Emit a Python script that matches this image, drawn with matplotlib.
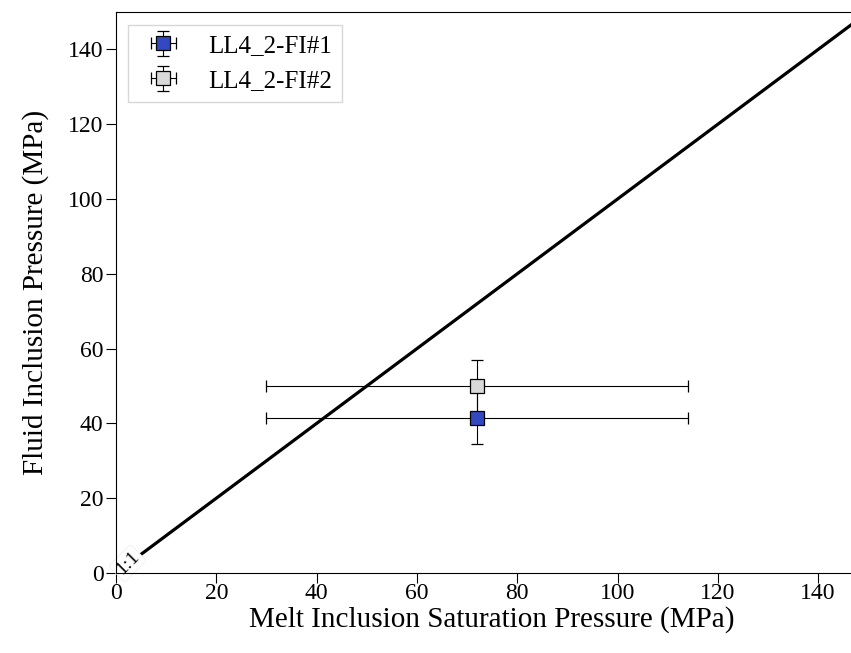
import numpy as np
import matplotlib.pyplot as plt

plt.rcParams['font.family'] = ['Liberation Serif', 'DejaVu Serif']

labels = ['LL4_2-FI#1', 'LL4_2-FI#2']
mi_sat = [72, 72]
mi_err = [42, 42]
fi_press = [41.5, 50]
fi_err = [7, 7]
colors = ['#3349c2', '#d9d9d9']

fig = plt.figure(figsize=(8.51, 6.53), dpi=100)
ax = fig.add_axes([0.1363, 0.1225, 0.884, 0.859])

oneone = np.array([0, 150])
ax.plot(oneone, oneone, '-k', lw=2.3, zorder=1)
ax.text(2.3, 2.6, '1:1', rotation=45, ha='center', va='center', fontsize=14,
        bbox=dict(boxstyle='round,pad=0.15', facecolor='white',
                  edgecolor='#eeeeee', lw=0.5), zorder=2)

for i in range(len(labels)):
    ax.errorbar(mi_sat[i], fi_press[i], xerr=mi_err[i], yerr=fi_err[i],
                fmt='s', mfc=colors[i], mec='k', ms=9.5, mew=0.9,
                ecolor='k', elinewidth=0.8, capsize=4, label=labels[i], zorder=3)

ax.set_xlim(0, 150)
ax.set_ylim(0, 150)
ax.set_xticks(np.arange(0, 141, 20))
ax.set_yticks(np.arange(0, 141, 20))
ax.tick_params(labelsize=17, length=7, pad=2)
ax.tick_params(axis='x', pad=0)
ax.set_xlabel('Melt Inclusion Saturation Pressure (MPa)', fontsize=21, labelpad=2)
ax.set_ylabel('Fluid Inclusion Pressure (MPa)', fontsize=21, labelpad=14)
ax.legend(loc='upper left', fontsize=18, fancybox=False, edgecolor='#cccccc')

fig.savefig('out.png', dpi=100)
